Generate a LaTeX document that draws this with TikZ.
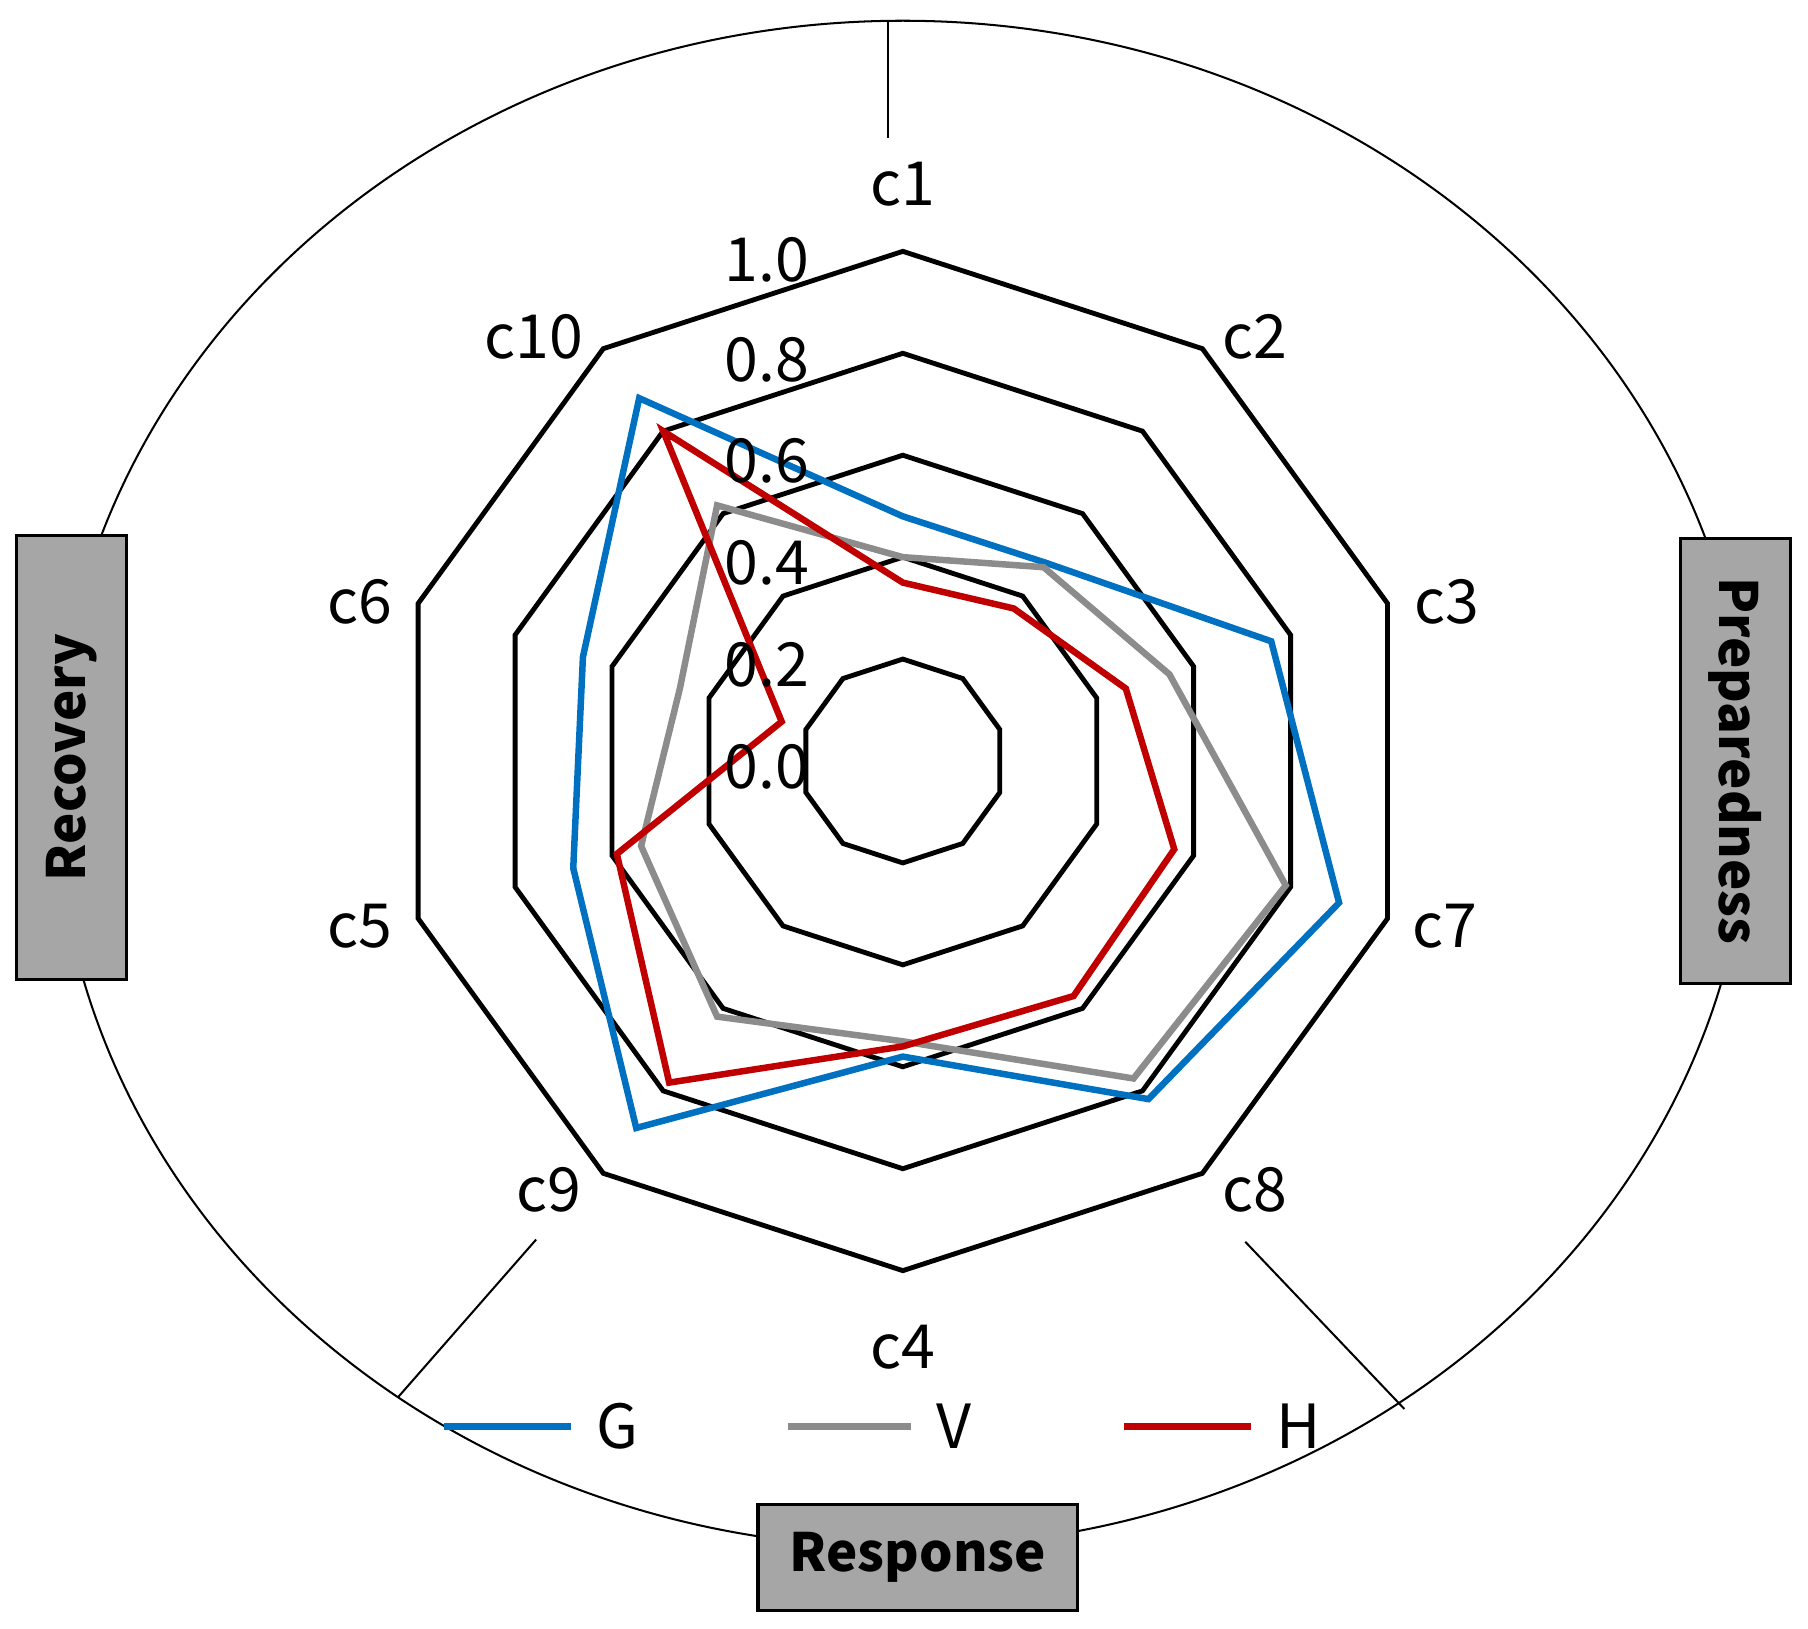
\documentclass[tikz,border=0pt]{standalone}
\usepackage{fontspec}
\setmainfont{Noto Sans CJK JP}
\begin{document}
\begin{tikzpicture}[x=0.01cm,y=0.01cm,
  ring/.style={line width=1.2pt,black,line join=miter},
  ser/.style={line width=1.6pt,line join=miter},
  lab/.style={font=\fontsize{15}{15}\selectfont},
  box/.style={draw=black,fill=black!35,line width=0.8pt,font=\bfseries\fontsize{13}{13}\selectfont,inner sep=0pt}]
\definecolor{cG}{RGB}{0,112,192}
\definecolor{cV}{RGB}{140,140,140}
\definecolor{cH}{RGB}{192,0,0}
\useasboundingbox (0,0) rectangle (1568,1412);
\coordinate (O) at (783,752);
% outer ellipse
\draw[line width=0.5pt] (783,732) ellipse [x radius=735, y radius=662];
\coordinate (t1) at (770,1394); \coordinate (t2) at (770,1292);
\draw[line width=0.5pt] (t1) -- (t2);
\coordinate (l1) at (345,200); \coordinate (l2) at (465,337);
\draw[line width=0.5pt] (l1) -- (l2);
\coordinate (r1) at (1218,190); \coordinate (r2) at (1080,335);
\draw[line width=0.5pt] (r1) -- (r2);
\begin{scope}[shift={(783,752)}]
\foreach \v in {0.2,0.4,0.6,0.8,1.0}
  \draw[ring] (90:{442*\v}) \foreach \a in {54,18,-18,-54,-90,-126,-162,162,126} { -- (\a:{442*\v}) } -- cycle;
\draw[ser,cG] (90:{442*0.48}) -- (54:{442*0.48}) -- (18:{442*0.76}) -- (-18:{442*0.9}) -- (-54:{442*0.82}) -- (-90:{442*0.58}) -- (-126:{442*0.89}) -- (-162:{442*0.68}) -- (162:{442*0.66}) -- (126:{442*0.88}) -- cycle;
\draw[ser,cV] (90:{442*0.40}) -- (54:{442*0.47}) -- (18:{442*0.55}) -- (-18:{442*0.79}) -- (-54:{442*0.77}) -- (-90:{442*0.55}) -- (-126:{442*0.62}) -- (-162:{442*0.54}) -- (162:{442*0.46}) -- (126:{442*0.62}) -- cycle;
\draw[ser,cH] (90:{442*0.35}) -- (54:{442*0.37}) -- (18:{442*0.46}) -- (-18:{442*0.56}) -- (-54:{442*0.57}) -- (-90:{442*0.56}) -- (-126:{442*0.78}) -- (-162:{442*0.59}) -- (162:{442*0.25}) -- (126:{442*0.80}) -- cycle;
\end{scope}
% axis value labels
\node[lab] (v10) at (665,1187) {1.0};
\node[lab] (v08) at (665,1100) {0.8};
\node[lab] (v06) at (665,1012) {0.6};
\node[lab] (v04) at (665,924) {0.4};
\node[lab] (v02) at (665,835) {0.2};
\node[lab] (v00) at (665,747) {0.0};
% category labels
\node[lab] (c1) at (783,1252) {c1};
\node[lab] (c2) at (1088,1120) {c2};
\node[lab] (c3) at (1255,890) {c3};
\node[lab] (c7) at (1253,609) {c7};
\node[lab] (c8) at (1088,380) {c8};
\node[lab] (c4) at (783,244) {c4};
\node[lab] (c9) at (476,380) {c9};
\node[lab] (c5) at (312,609) {c5};
\node[lab] (c6) at (312,890) {c6};
\node[lab] (c10) at (463,1120) {c10};
% legend
\coordinate (gA) at (385,175); \coordinate (gB) at (495,175);
\draw[ser,cG] (gA) -- (gB); \node[lab,anchor=west] (G) at (505,175) {G};
\coordinate (vA) at (683,175); \coordinate (vB) at (790,175);
\draw[ser,cV] (vA) -- (vB); \node[lab,anchor=west] (V) at (800,175) {V};
\coordinate (hA) at (975,175); \coordinate (hB) at (1085,175);
\draw[ser,cH] (hA) -- (hB); \node[lab,anchor=west] (H) at (1095,175) {H};
% boxes
\node[box,minimum width=0.95cm,minimum height=3.85cm] (rec) at (62,755) {\rotatebox{90}{Recovery}};
\node[box,minimum width=0.95cm,minimum height=3.86cm] (pre) at (1505,752) {\rotatebox{-90}{Preparedness}};
\node[box,minimum width=2.77cm,minimum height=0.92cm] (res) at (796,61) {Response};
\end{tikzpicture}
\end{document}
